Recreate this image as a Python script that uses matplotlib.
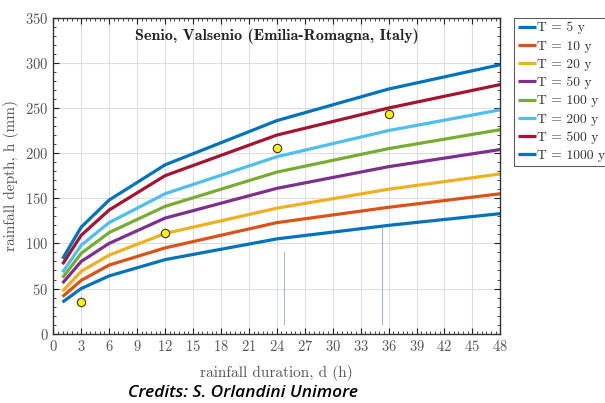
import numpy as np
import matplotlib
matplotlib.use("Agg")
import matplotlib.pyplot as plt
from matplotlib.ticker import MultipleLocator

# durations (h) and depths (mm) per return period
durations = [1, 3, 6, 12, 24, 36, 48]
depth_T5 = [35, 50, 64, 82, 105, 120, 133]
depth_T10 = [41, 59, 76, 95, 123, 140, 155]
depth_T20 = [47, 69, 87, 111, 139, 160, 177]
depth_T50 = [56, 80, 100, 128, 161, 185, 204]
depth_T100 = [62, 89, 112, 141, 179, 205, 226]
depth_T200 = [68, 98, 123, 155, 196, 225, 248]
depth_T500 = [77, 109, 137, 175, 220, 250, 276]
depth_T1000 = [83, 118, 148, 187, 236, 271, 298]
labels = ['T = 5 y', 'T = 10 y', 'T = 20 y', 'T = 50 y',
          'T = 100 y', 'T = 200 y', 'T = 500 y', 'T = 1000 y']

# observed points
obs_d = [3, 12, 24, 36]
obs_h = [35, 112, 206, 243]

# stray thin lines in the original figure
stray_x = [24.8, 35.3]
stray_y0 = [10.5, 10.5]
stray_y1 = [91, 117]

colors = ['#0072BD', '#D95319', '#EDB120', '#7E2F8E',
          '#77AC30', '#4DBEEE', '#A2142F', '#0072BD']

plt.rcParams['font.family'] = 'cmr10'
plt.rcParams['axes.formatter.use_mathtext'] = True

fig = plt.figure(figsize=(6.05, 4.03), dpi=100)
ax = fig.add_axes([0.088, 0.172, 0.739, 0.784])

series = [depth_T5, depth_T10, depth_T20, depth_T50,
          depth_T100, depth_T200, depth_T500, depth_T1000]
for h, c, lab in zip(series, colors, labels):
    ax.plot(durations, h, color=c, lw=2.3, label=lab, solid_capstyle='butt')

for x, y0, y1 in zip(stray_x, stray_y0, stray_y1):
    ax.plot([x, x], [y0, y1], color='#9DB9E0', lw=0.8)

ax.plot(obs_d, obs_h, 'o', ms=6, mfc='#FFF200', mec='#333333', mew=0.8,
        linestyle='none')

ax.set_xlim(0, 48)
ax.set_ylim(0, 350)
ax.xaxis.set_major_locator(MultipleLocator(3))
ax.xaxis.set_minor_locator(MultipleLocator(0.5))
ax.yaxis.set_major_locator(MultipleLocator(50))
ax.yaxis.set_minor_locator(MultipleLocator(10))
ax.grid(True, which='major', color='#DDDDDD', lw=0.8)
ax.set_axisbelow(True)
ax.tick_params(which='both', direction='in', top=True, right=True,
               labelsize=10.5, colors='#222222', labelcolor='#555555')
ax.tick_params(which='major', length=4)
ax.tick_params(which='minor', length=2)
for s in ax.spines.values():
    s.set_linewidth(1.0)
    s.set_color('#333333')

ax.set_xlabel('rainfall duration, d (h)', fontsize=11, color='#555555',
              labelpad=8)
ax.set_ylabel('rainfall depth, h (mm)', fontsize=11, color='#555555')

ax.text(0.5, 0.94, 'Senio, Valsenio (Emilia-Romagna, Italy)',
        transform=ax.transAxes, ha='center', va='center',
        fontsize=11.5, family='cmb10', color='#222222')

leg = ax.legend(loc='upper left', bbox_to_anchor=(1.03, 1.0), fontsize=9.8,
                handlelength=1.3, handletextpad=0.1, borderpad=0.3,
                borderaxespad=0, labelspacing=0.42, frameon=True,
                fancybox=False)
leg.get_frame().set_edgecolor('#333333')
leg.get_frame().set_linewidth(0.8)
for t in leg.get_texts():
    t.set_color('#333333')

fig.text(0.402, 0.024, 'Credits: S. Orlandini Unimore', ha='center',
         va='center', fontsize=12.5, family='Open Sans', style='italic',
         weight='semibold', color='black')

fig.savefig('out.png', dpi=100)
